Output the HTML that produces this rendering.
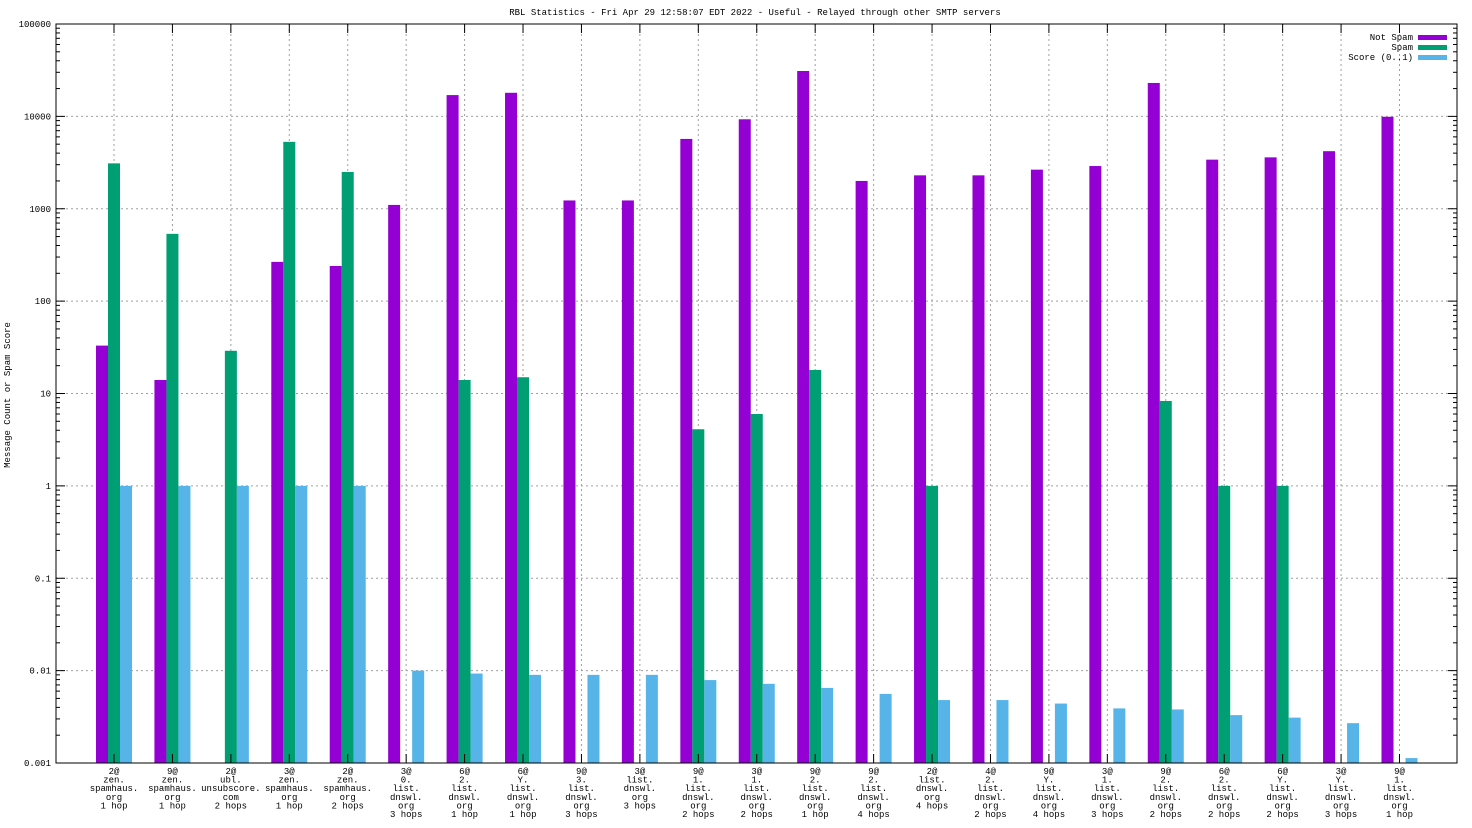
<!DOCTYPE html>
<html><head><meta charset="utf-8"><style>
html,body{margin:0;padding:0;background:#fff;}
svg{display:block;font-family:"Liberation Mono",monospace;}
</style></head><body>
<svg id="chart" width="1472" height="828" xmlns="http://www.w3.org/2000/svg">
<text x="755" y="15" font-size="9" text-anchor="middle">RBL Statistics - Fri Apr 29 12:58:07 EDT 2022 - Useful - Relayed through other SMTP servers</text>
<text x="0" y="0" font-size="9" text-anchor="middle" transform="translate(10,395) rotate(-90)">Message Count or Spam Score</text>
<g id="grid"></g><g id="bars"></g><g id="axes"></g>
<g>
<text x="1413" y="40" font-size="9" text-anchor="end">Not Spam</text>
<rect x="1418" y="35" width="29" height="5" fill="#9400d3"/>
<text x="1413" y="50" font-size="9" text-anchor="end">Spam</text>
<rect x="1418" y="45" width="29" height="5" fill="#009e73"/>
<text x="1413" y="60" font-size="9" text-anchor="end">Score (0..1)</text>
<rect x="1418" y="55" width="29" height="5" fill="#56b4e9"/>
</g>
</svg>
<script>
const categories=[
["2@","zen.","spamhaus.","org","1 hop"],["9@","zen.","spamhaus.","org","1 hop"],["2@","ubl.","unsubscore.","com","2 hops"],
["3@","zen.","spamhaus.","org","1 hop"],["2@","zen.","spamhaus.","org","2 hops"],["3@","0.","list.","dnswl.","org","3 hops"],
["6@","2.","list.","dnswl.","org","1 hop"],["6@","Y.","list.","dnswl.","org","1 hop"],["9@","3.","list.","dnswl.","org","3 hops"],
["3@","list.","dnswl.","org","3 hops"],["9@","1.","list.","dnswl.","org","2 hops"],["3@","1.","list.","dnswl.","org","2 hops"],
["9@","2.","list.","dnswl.","org","1 hop"],["9@","2.","list.","dnswl.","org","4 hops"],["2@","list.","dnswl.","org","4 hops"],
["4@","2.","list.","dnswl.","org","2 hops"],["9@","Y.","list.","dnswl.","org","4 hops"],["3@","1.","list.","dnswl.","org","3 hops"],
["9@","2.","list.","dnswl.","org","2 hops"],["6@","2.","list.","dnswl.","org","2 hops"],["6@","Y.","list.","dnswl.","org","2 hops"],
["3@","Y.","list.","dnswl.","org","3 hops"],["9@","1.","list.","dnswl.","org","1 hop"]];
const notSpam=[33,14,0,266,240,1100,17000,18000,1230,1230,5700,9300,31000,2000,2300,2300,2650,2900,23000,3400,3600,4200,9900];
const spam=[3100,535,29,5300,2500,0,14,15,0,0,4.1,6,18,0,1,0,0,0,8.3,1,1,0,0];
const score=[1,1,1,1,1,0.01,0.0093,0.009,0.009,0.009,0.0079,0.0072,0.0065,0.0056,0.0048,0.0048,0.0044,0.0039,0.0038,0.0033,0.0031,0.0027,0.00113];
const tickLabels=["0.001","0.01","0.1","1","10","100","1000","10000","100000"];
const L=56,R=1457,T=24,B=763,minE=-3,maxE=5;
const NS="http://www.w3.org/2000/svg";
function y(v){return B-(Math.log10(v)-minE)/(maxE-minE)*(B-T);}
function x(i){return 114+i*((1399.5-114)/(categories.length-1));}
function mk(tag,attrs,parent){const e=document.createElementNS(NS,tag);for(const k in attrs)e.setAttribute(k,attrs[k]);parent.appendChild(e);return e;}
const grid=document.getElementById('grid'),bars=document.getElementById('bars'),axes=document.getElementById('axes');
tickLabels.forEach((t,k)=>{const yy=y(parseFloat(t));
 if(k>0&&k<tickLabels.length-1){const g=mk('line',{x1:L,x2:R,y1:yy,y2:yy,stroke:'#a0a0a0','stroke-dasharray':'2,3','stroke-width':1},grid);
 
 }
 mk('line',{x1:L,x2:L+9,y1:yy,y2:yy,stroke:'#000'},axes);mk('line',{x1:R,x2:R-9,y1:yy,y2:yy,stroke:'#000'},axes);
 if(k<tickLabels.length-1){const base=parseFloat(t);for(let m=2;m<10;m++){const my=y(base*m);mk('line',{x1:L,x2:L+4,y1:my,y2:my,stroke:'#000'},axes);mk('line',{x1:R,x2:R-4,y1:my,y2:my,stroke:'#000'},axes);}}
 const tx=mk('text',{x:L-5,y:yy+3,'font-size':9,'text-anchor':'end'},axes);tx.textContent=t;
 
 
});
categories.forEach((c,i)=>{const cx=x(i);
 const g=mk('line',{x1:cx,x2:cx,y1:T,y2:B,stroke:'#a0a0a0','stroke-dasharray':'2,3'},grid);
 
 
 mk('line',{x1:cx,x2:cx,y1:B,y2:B-9,stroke:'#000'},axes);mk('line',{x1:cx,x2:cx,y1:T,y2:T+9,stroke:'#000'},axes);
 [[notSpam,'#9400d3',-18,'bar-not-spam'],[spam,'#009e73',-6,'bar-spam'],[score,'#56b4e9',6,'bar-score']].forEach(s=>{
  const v=s[0][i];if(!(v>0))return;const yy=y(v);
  const r=mk('rect',{x:cx+s[2],y:yy,width:12,height:B-yy,fill:s[1]},bars);
  
  
 });
 const t=mk('text',{'font-size':9,'text-anchor':'middle'},axes);
 
 
 c.forEach((ln,j)=>{const ts=mk('tspan',{x:cx,y:B+11+j*8.6},t);ts.textContent=ln;});
});
mk('rect',{x:L,y:T,width:R-L,height:B-T,fill:'none',stroke:'#000','stroke-width':1},axes);
</script>
</body></html>
